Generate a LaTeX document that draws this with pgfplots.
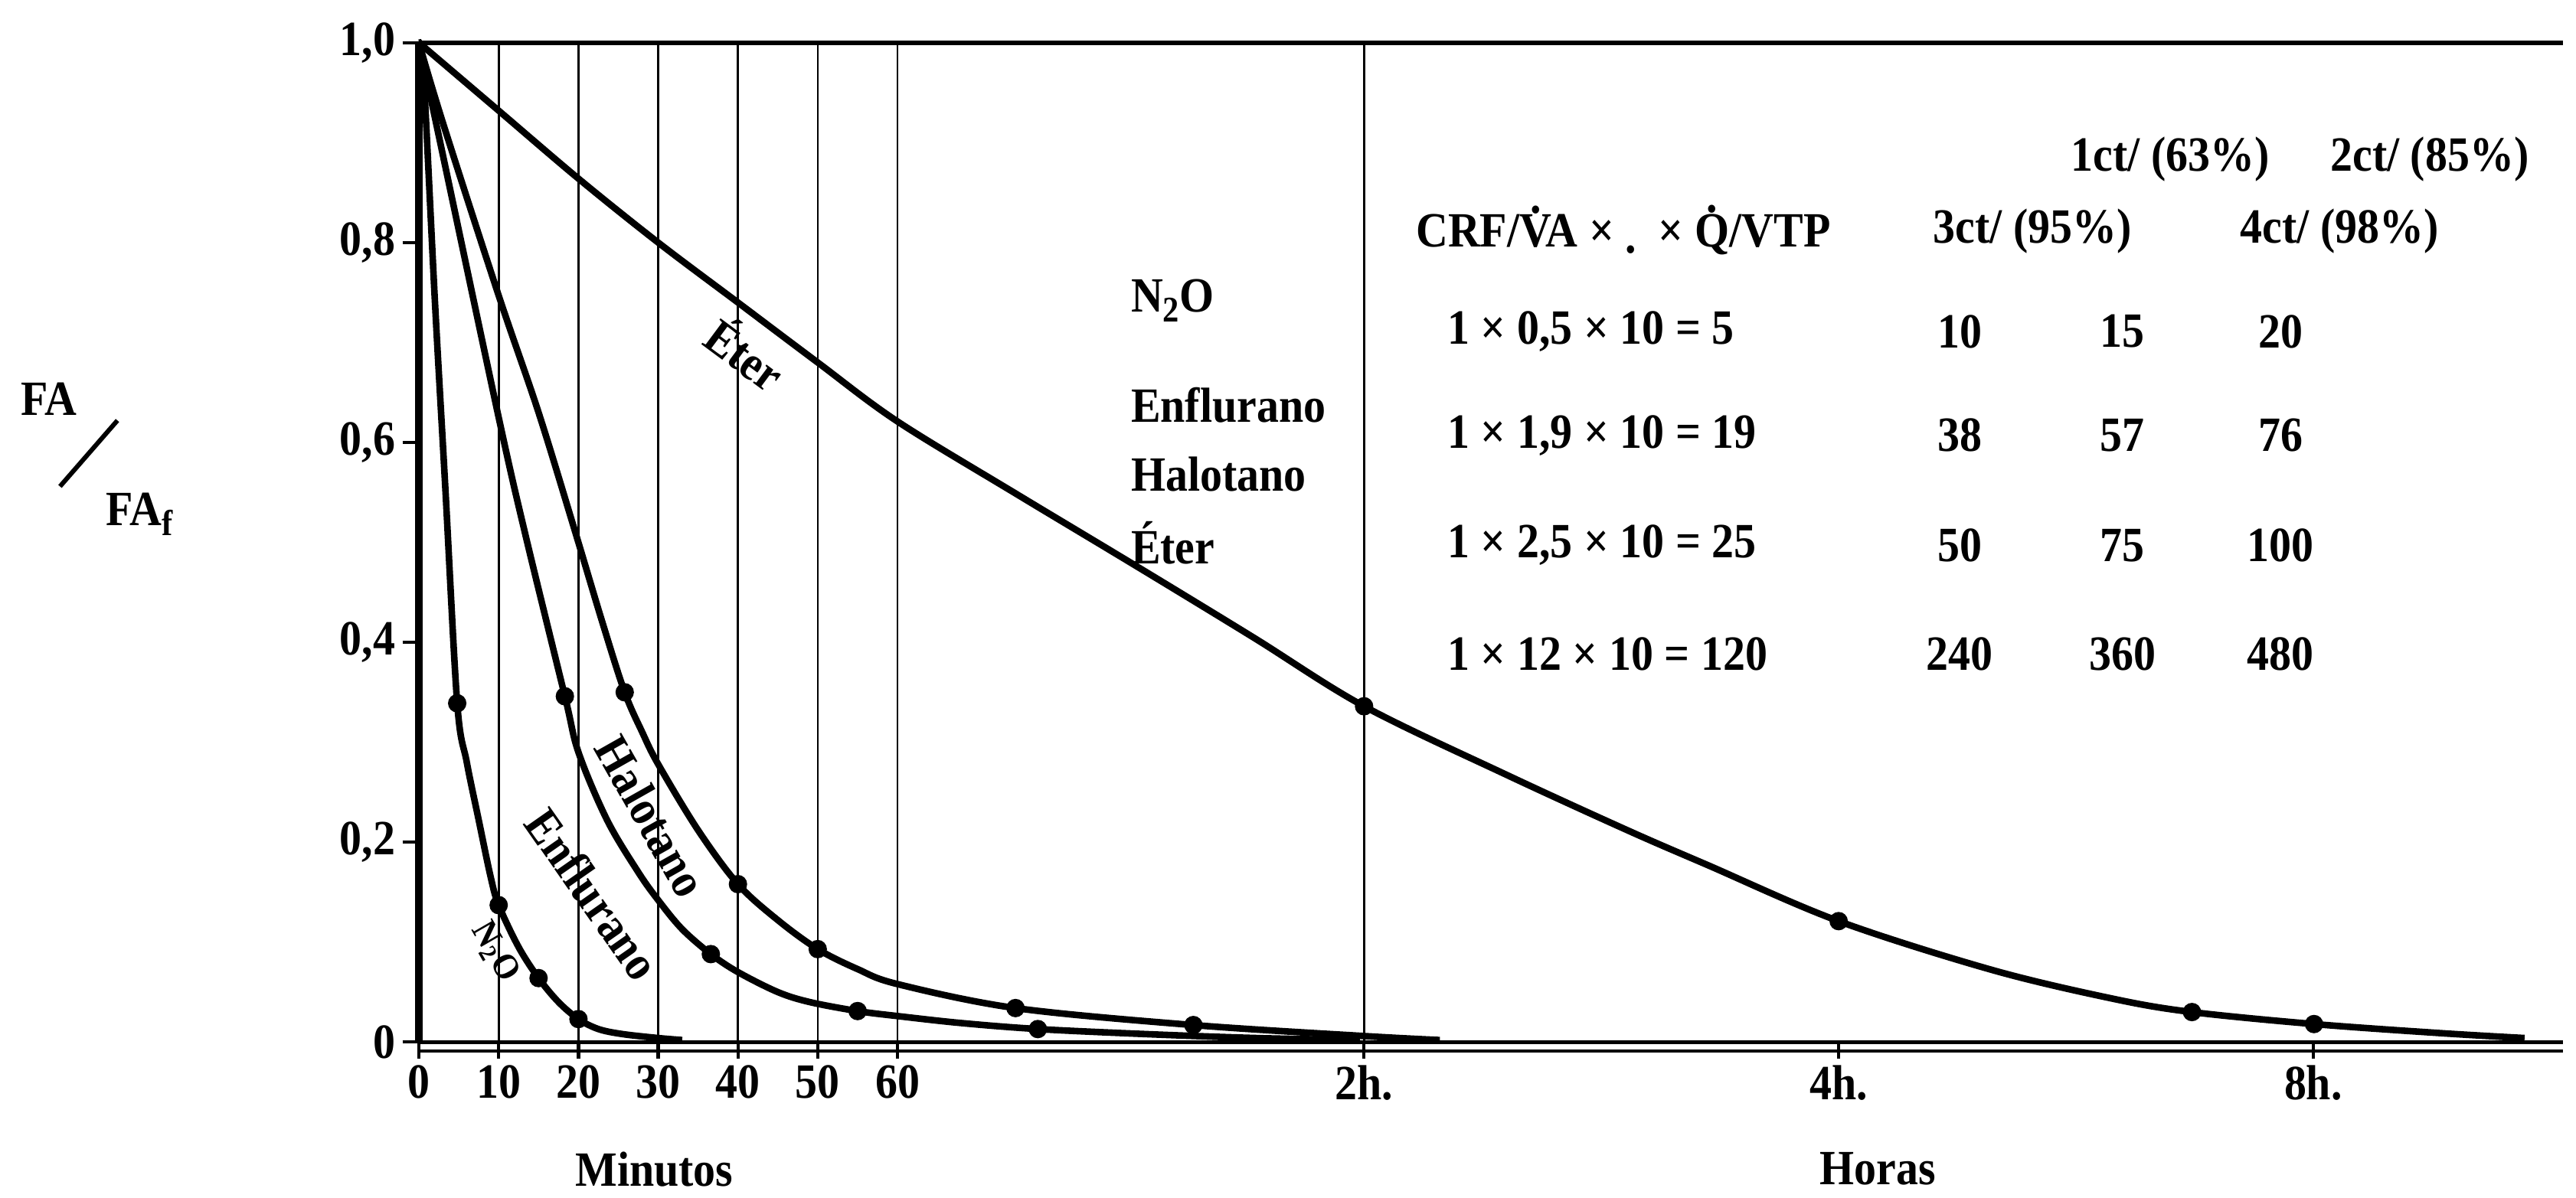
\documentclass[border=0pt]{standalone}
\usepackage{fontspec}
\setmainfont[FakeStretch=0.9]{Liberation Serif}
\usepackage{pgfplots}
\pgfplotsset{compat=1.18}
\newcommand\lab{\fontsize{15}{18}\selectfont\bfseries}
\newcommand\smalllab{\fontsize{11}{13}\selectfont\bfseries}
\newcommand\dotover[1]{\leavevmode\setbox0\hbox{#1}\rlap{\hbox to\wd0{\hss\raisebox{\dimexpr\ht0+0.5pt\relax}{.}\hss}}#1}
\begin{document}
\begin{tikzpicture}
\useasboundingbox (-127.5pt,-47.25pt) rectangle (656.5pt,317.25pt);
\begin{axis}[
  at={(0pt,0pt)}, anchor=south west,
  scale only axis, width=652.5pt, height=304.25pt,
  xmin=0, xmax=26.88, ymin=0, ymax=1,
  axis x line=bottom, axis y line=left,
  axis line style={-},
  every outer x axis line/.append style={-},
  every outer y axis line/.append style={-},
  x axis line style={-, line width=1.2pt},
  y axis line style={-, line width=2.4pt},
  clip=false,
  tick align=outside,
  major tick length=5pt,
  tick style={black, line width=1pt},
  xtick={0,1,2,3,4,5,6,11.85,17.8,23.75},
  xticklabels={0,10,20,30,40,50,60,2h.,4h.,8h.},
  ytick={0,0.2,0.4,0.6,0.8,1},
  yticklabels={0,{0,2},{0,4},{0,6},{0,8},{1,0}},
  xticklabel style={font=\lab, inner sep=0pt, yshift=-2pt},
  yticklabel style={font=\lab, inner sep=0pt, xshift=-2pt},
]
% frame lines and grid
\draw[line width=1.1pt] (axis cs:0,-0.009) -- (axis cs:26.88,-0.009);
\draw[line width=1.3pt] (axis cs:0,1) -- (axis cs:26.88,1);
\pgfplotsinvokeforeach{1,2,3,4,5,6,11.85}{
  \draw[line width=0.6pt] (axis cs:#1,0) -- (axis cs:#1,1);
}

% Eter
\addplot[black, line width=2pt, smooth, tension=0.55] coordinates {
(0,1) (1,0.932) (2,0.864) (3,0.800) (4,0.740) (5,0.680) (6,0.621) (7.5,0.548)
(9,0.476) (10.46,0.405) (11.85,0.336) (13.62,0.268) (15.15,0.212) (16.16,0.177)
(17.8,0.121) (19.73,0.072) (21.26,0.043) (22.23,0.030) (23.76,0.018) (25.33,0.009) (26.4,0.004)
};
\addplot[black, only marks, mark=*, mark size=2.6pt] coordinates {
(11.85,0.336) (17.8,0.121) (22.23,0.030) (23.76,0.018)
};

% Halotano
\addplot[black, line width=2pt, smooth, tension=0.55] coordinates {
(0,1) (0.3,0.92) (1.0,0.747) (1.5,0.63) (1.95,0.513) (2.3,0.42) (2.58,0.35)
(2.8,0.31) (3.0,0.278) (3.5,0.212) (4.0,0.158) (4.5,0.122) (5.0,0.093) (5.5,0.073) (6.0,0.058)
(7.48,0.034) (9.71,0.017) (11.85,0.006) (12.8,0.002)
};
\addplot[black, only marks, mark=*, mark size=2.6pt] coordinates {
(2.58,0.35) (4.0,0.158) (5.0,0.093) (7.48,0.034) (9.71,0.017)
};

% Enflurano
\addplot[black, line width=2pt, smooth, tension=0.55] coordinates {
(0,1) (0.23,0.914) (1.0,0.625) (1.34,0.506) (1.83,0.346) (2.0,0.29) (2.36,0.222)
(2.75,0.17) (3.0,0.142) (3.3,0.113) (3.66,0.088) (4.0,0.07) (4.5,0.05) (4.9,0.04) (5.5,0.031)
(6.0,0.026) (6.8,0.019) (7.76,0.013) (9.1,0.008) (10.5,0.004) (11.8,0.002)
};
\addplot[black, only marks, mark=*, mark size=2.6pt] coordinates {
(1.83,0.346) (3.66,0.088) (5.5,0.031) (7.76,0.013)
};

% N2O
\addplot[black, line width=2pt, smooth, tension=0.55] coordinates {
(0,1) (0.06,0.965) (0.2,0.742) (0.33,0.556) (0.48,0.339) (0.6,0.28) (0.75,0.222)
(0.9,0.165) (1.0,0.137) (1.25,0.095) (1.5,0.064) (1.75,0.04) (2.0,0.023)
(2.25,0.013) (2.55,0.008) (3.0,0.004) (3.3,0.002)
};
\addplot[black, only marks, mark=*, mark size=2.6pt] coordinates {
(0.48,0.339) (1.0,0.137) (1.5,0.064) (2.0,0.023)
};

% curve labels
\node[font=\lab, rotate=-36.6] at (axis cs:4.11,0.69) {Éter};
\node[font=\lab, rotate=-60.5] at (axis cs:2.91,0.226) {Halotano};
\node[font=\lab, rotate=-55] at (axis cs:2.18,0.148) {Enflurano};
\node[font=\smalllab, rotate=-60] at (axis cs:0.95,0.09) {N\textsubscript{2}O};

% axis titles
\node[font=\lab, inner sep=0pt] at (axis cs:2.95,-0.127) {Minutos};
\node[font=\lab, inner sep=0pt] at (axis cs:18.29,-0.127) {Horas};
\node[font=\lab, anchor=base west, inner sep=0pt] at (axis cs:-5.0,0.627) {FA};
\draw[line width=1.4pt] (axis cs:-4.5,0.556) -- (axis cs:-3.78,0.622);
\node[font=\lab, anchor=base west, inner sep=0pt] at (axis cs:-3.93,0.517) {FA\raisebox{-0.45ex}{\smalllab f}};

% table
\node[font=\lab] at (axis cs:21.96,0.883) {1ct/ (63\%)};
\node[font=\lab] at (axis cs:25.21,0.883) {2ct/ (85\%)};
\node[font=\lab] at (axis cs:15.1,0.8126) {CRF/\dotover{V}A ×\ \raisebox{-2pt}{.}\ \ × \dotover{Q}/VTP};
\node[font=\lab] at (axis cs:20.23,0.811) {3ct/ (95\%)};
\node[font=\lab] at (axis cs:24.08,0.811) {4ct/ (98\%)};

\node[font=\lab, anchor=west, inner sep=0pt] at (axis cs:8.92,0.742) {N\raisebox{-0.45ex}{\smalllab 2}O};
\node[font=\lab, anchor=west, inner sep=0pt] at (axis cs:8.92,0.637) {Enflurano};
\node[font=\lab, anchor=west, inner sep=0pt] at (axis cs:8.92,0.568) {Halotano};
\node[font=\lab, anchor=west, inner sep=0pt] at (axis cs:8.92,0.4996) {Éter};

\node[font=\lab, anchor=west, inner sep=0pt] at (axis cs:12.89,0.711) {1 × 0,5 × 10 = 5};
\node[font=\lab, anchor=west, inner sep=0pt] at (axis cs:12.89,0.607) {1 × 1,9 × 10 = 19};
\node[font=\lab, anchor=west, inner sep=0pt] at (axis cs:12.89,0.497) {1 × 2,5 × 10 = 25};
\node[font=\lab, anchor=west, inner sep=0pt] at (axis cs:12.89,0.388) {1 × 12 × 10 = 120};

\node[font=\lab] at (axis cs:19.32,0.711) {10};
\node[font=\lab] at (axis cs:21.36,0.711) {15};
\node[font=\lab] at (axis cs:23.34,0.711) {20};
\node[font=\lab] at (axis cs:19.32,0.607) {38};
\node[font=\lab] at (axis cs:21.36,0.607) {57};
\node[font=\lab] at (axis cs:23.34,0.607) {76};
\node[font=\lab] at (axis cs:19.32,0.497) {50};
\node[font=\lab] at (axis cs:21.36,0.497) {75};
\node[font=\lab] at (axis cs:23.34,0.497) {100};
\node[font=\lab] at (axis cs:19.32,0.388) {240};
\node[font=\lab] at (axis cs:21.36,0.388) {360};
\node[font=\lab] at (axis cs:23.34,0.388) {480};
\end{axis}
\end{tikzpicture}
\end{document}
